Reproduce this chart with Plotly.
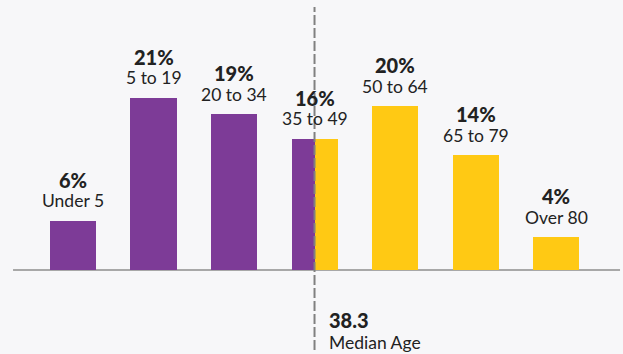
import plotly.graph_objects as go

categories = ["Under 5", "5 to 19", "20 to 34", "35 to 49", "50 to 64", "65 to 79", "Over 80"]
values = [6, 21, 19, 16, 20, 14, 4]
pct_labels = ["6%", "21%", "19%", "16%", "20%", "14%", "4%"]
median_value = "38.3"
median_label = "Median Age"
median_index = 3  # bar containing the median (35 to 49)

PURPLE = "#7D3B97"
YELLOW = "#FFC914"
BG = "#F7F7F9"
W = 0.572

xs = list(range(len(categories)))

fig = go.Figure()
# purple bars: under the median
px = [x for x in xs if x < median_index] + [median_index - W / 4]
py = [values[i] for i in xs if i < median_index] + [values[median_index]]
pw = [W] * median_index + [W / 2]
fig.add_trace(go.Bar(x=px, y=py, width=pw, marker=dict(color=PURPLE, line=dict(width=0)),
                     hoverinfo="skip", showlegend=False))
# yellow bars: above the median
yx = [median_index + W / 4] + [x for x in xs if x > median_index]
yy = [values[median_index]] + [values[i] for i in xs if i > median_index]
yw = [W / 2] + [W] * (len(xs) - median_index - 1)
fig.add_trace(go.Bar(x=yx, y=yy, width=yw, marker=dict(color=YELLOW, line=dict(width=0)),
                     hoverinfo="skip", showlegend=False))

FONT = "Lato"
BOLD = dict(family=FONT, size=20, color="#222222", weight=900)
REG = dict(family=FONT, size=17.5, color="#222222")
annotations = []
for i, (c, v, p) in enumerate(zip(categories, values, pct_labels)):
    annotations.append(dict(x=i, y=v, text=p, showarrow=False, yanchor="middle", xanchor="center",
                            yshift=41, font=BOLD))
    annotations.append(dict(x=i, y=v, text=c, showarrow=False, yanchor="middle", xanchor="center",
                            yshift=20, font=REG))
annotations.append(dict(x=median_index, xshift=12, y=1 - 320 / 354, yref="paper", text=median_value,
                        showarrow=False, xanchor="left", yanchor="middle", font=BOLD))
annotations.append(dict(x=median_index, xshift=12, y=1 - 342 / 354, yref="paper", text=median_label,
                        showarrow=False, xanchor="left", yanchor="middle", font=REG))

shapes = [
    dict(type="line", xref="x", yref="y", x0=-0.745, x1=6.795, y0=0, y1=0,
         line=dict(color="#A8A8A8", width=2), layer="below"),
    dict(type="line", xref="x", yref="paper", x0=median_index, x1=median_index,
         y0=1 - 350 / 354, y1=1 - 7 / 354,
         line=dict(color="#808080", width=2, dash="10px,3px"), layer="above"),
]

fig.update_layout(
    width=623, height=354,
    margin=dict(l=0, r=0, t=0, b=0),
    paper_bgcolor=BG, plot_bgcolor=BG,
    xaxis=dict(range=[-0.907, 6.832], visible=False, fixedrange=True),
    yaxis=dict(range=[-10.24, 32.93], visible=False, fixedrange=True),
    annotations=annotations, shapes=shapes,
    bargap=0,
)

fig.write_html("out.html", config={"displayModeBar": False},
               post_script="document.body.style.margin='0';document.body.style.background='%s';" % BG)
